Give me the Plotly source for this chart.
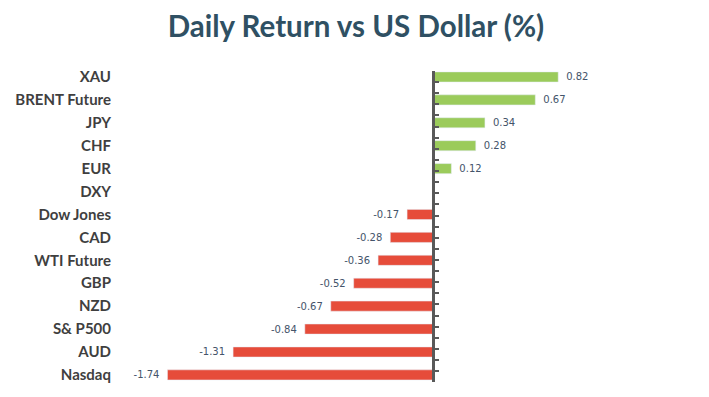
import plotly.graph_objects as go

categories = ["XAU", "BRENT Future", "JPY", "CHF", "EUR", "DXY", "Dow Jones",
              "CAD", "WTI Future", "GBP", "NZD", "S& P500", "AUD", "Nasdaq"]
returns = [0.82, 0.67, 0.34, 0.28, 0.12, 0.0, -0.17,
           -0.28, -0.36, -0.52, -0.67, -0.84, -1.31, -1.74]

GREEN = "#9BCB5B"
RED = "#E64C3A"
LABEL = "#44546A"

# the page body adds an 8px offset, so the figure is 8px smaller than the window
W, H = 701, 389
ml, mr, mt, mb = 112, 89, 63, 15
xr = [-2.051, 1.225]
yr = [13.31, -0.26]

pos = list(range(len(categories)))
texts = ["" if v == 0 else f"{v:.2f}" for v in returns]

fig = go.Figure()
pos_idx = [i for i, v in enumerate(returns) if v > 0]
neg_idx = [i for i, v in enumerate(returns) if v < 0]

fig.add_trace(go.Bar(
    x=[returns[i] for i in pos_idx], y=[pos[i] for i in pos_idx],
    orientation="h", marker_color=GREEN, width=0.44,
    text=[texts[i] for i in pos_idx], texttemplate="\u2002%{text}",
    textposition="outside", cliponaxis=False, constraintext="none",
    textfont=dict(family="DejaVu Sans", size=10, color=LABEL),
    hoverinfo="skip", showlegend=False))
fig.add_trace(go.Bar(
    x=[returns[i] for i in neg_idx], y=[pos[i] for i in neg_idx],
    orientation="h", marker_color=RED, width=0.44,
    text=[texts[i] for i in neg_idx], texttemplate="%{text}\u2002",
    textposition="outside", cliponaxis=False, constraintext="none",
    textfont=dict(family="DejaVu Sans", size=10, color=LABEL),
    hoverinfo="skip", showlegend=False))

fig.add_trace(go.Scatter(x=[0], y=[0], yaxis="y2", mode="markers",
                         marker=dict(opacity=0), hoverinfo="skip", showlegend=False))

zero_pos = (0 - xr[0]) / (xr[1] - xr[0])

fig.update_layout(
    width=W, height=H,
    margin=dict(l=ml, r=mr, t=mt, b=mb, autoexpand=False),
    paper_bgcolor="white", plot_bgcolor="white",
    title=dict(text="<b>Daily Return vs US Dollar (%)</b>", x=0.4964, xanchor="center",
               y=0.951, yanchor="middle",
               font=dict(family="Lato", size=29.5, color="#2F5063")),
    xaxis=dict(range=xr, visible=False, domain=[0, 1], automargin=False),
    yaxis=dict(range=yr, tickvals=pos, ticktext=categories, showline=False,
               showgrid=False, zeroline=False, ticks="", automargin=False,
               ticklabelstandoff=8,
               tickfont=dict(family="Lato", size=15, color="#3F3F3F", weight="bold")),
    yaxis2=dict(range=yr, overlaying="y", anchor="free", position=zero_pos,
                side="left", showline=True, linecolor="#595959", linewidth=3,
                ticks="inside", ticklen=4, tickwidth=2, tickcolor="#595959",
                tick0=-0.26, dtick=0.485, showticklabels=False, automargin=False,
                showgrid=False, zeroline=False),
    bargap=0.5,
)

fig.write_html("out.html")
